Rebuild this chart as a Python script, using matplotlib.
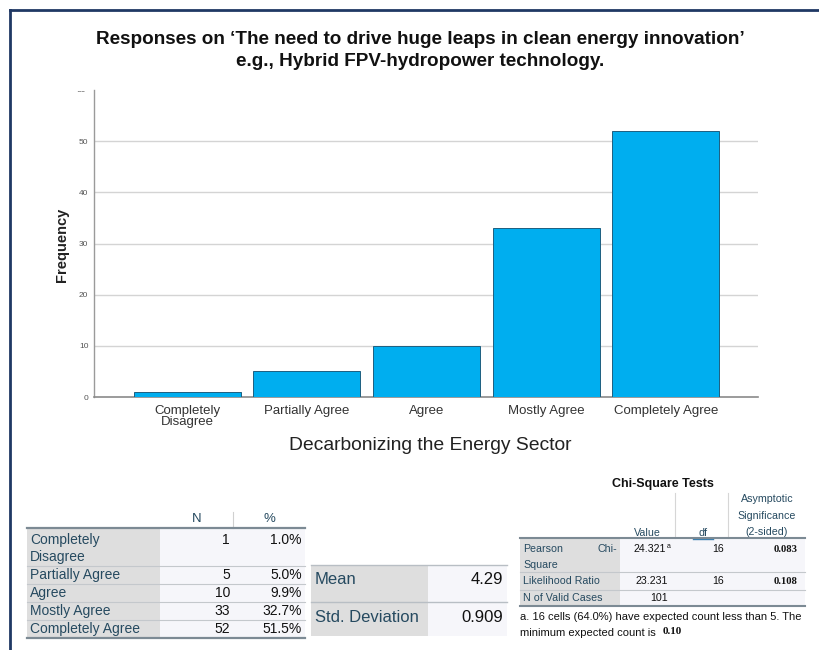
import numpy as np
import matplotlib
matplotlib.use("Agg")
import matplotlib.pyplot as plt
from matplotlib.patches import Rectangle
from matplotlib.lines import Line2D
from matplotlib.transforms import TransformedBbox, Bbox

plt.rcParams['font.family'] = ['Liberation Sans', 'DejaVu Sans']

# ---- data ----
categories = ["Completely\nDisagree", "Partially Agree", "Agree", "Mostly Agree", "Completely Agree"]
table_labels = ["Completely\nDisagree", "Partially Agree", "Agree", "Mostly Agree", "Completely Agree"]
counts = [1, 5, 10, 33, 52]
scores = [1, 2, 3, 4, 5]
y_ticks = [0, 10, 20, 30, 40, 50, 60]

chi_rows = ["Pearson Chi-Square", "Likelihood Ratio", "N of Valid Cases"]
chi_values = ["24.321", "23.231", "101"]
chi_df = ["16", "16", ""]
chi_sig = ["0.083", "0.108", ""]

W, H = 820, 650
fig = plt.figure(figsize=(W / 100, H / 100), dpi=100)
fig.patch.set_facecolor("white")


def fx(x):
    return x / W


def fy(y):
    return 1 - y / H


def txt(x, y, s, **kw):
    kw.setdefault("va", "center")
    return fig.text(fx(x), fy(y), s, **kw)


def hline(x0, x1, y, color, lw):
    fig.add_artist(Line2D([fx(x0), fx(x1)], [fy(y), fy(y)], color=color, lw=lw,
                          transform=fig.transFigure))


def vline(x, y0, y1, color, lw):
    fig.add_artist(Line2D([fx(x), fx(x)], [fy(y0), fy(y1)], color=color, lw=lw,
                          transform=fig.transFigure))


def rect(x0, y0, x1, y1, color):
    fig.add_artist(Rectangle((fx(x0), fy(y1)), fx(x1) - fx(x0), fy(y0) - fy(y1),
                             facecolor=color, edgecolor="none", transform=fig.transFigure))


# ---- outer frame (top and left edges) ----
hline(10, 820, 10, "#1F3864", 2.0)
vline(10, 10, 650, "#1F3864", 2.0)

# ---- title ----
txt(420, 40, "Responses on \u2018The need to drive huge leaps in clean energy innovation\u2019",
    ha="center", fontsize=13.6, fontweight="bold", color="#111111")
txt(420, 62, "e.g., Hybrid FPV-hydropower technology.",
    ha="center", fontsize=13.6, fontweight="bold", color="#111111")

# ---- bar chart ----
ax_l, ax_r, ax_t, ax_b = 94, 758, 90, 397
ax = fig.add_axes([fx(ax_l), fy(ax_b), fx(ax_r) - fx(ax_l), fy(ax_t) - fy(ax_b)])
x = np.arange(len(categories))
ax.bar(x, counts, width=0.895, color="#00AEEF", edgecolor="#1d5f80", linewidth=0.7, zorder=3)
ax.set_xlim(-0.78, 4.77)
ax.set_ylim(0, 60)
ax.set_yticks(y_ticks)
# the top label is drawn separately below so that it can be cut off
ax.set_yticklabels([str(t) for t in y_ticks[:-1]] + [""])
for t in y_ticks[1:-1]:
    ax.axhline(t, color="#D4D4D4", lw=1.0, zorder=1)
ax.set_xticks(x)
ax.set_xticklabels(categories, fontsize=9.5, color="#333333", linespacing=0.85)
ax.tick_params(axis="x", length=0, pad=6)
ax.tick_params(axis="y", length=0, pad=4, labelsize=6, labelcolor="#555555")
for s in ["top", "right"]:
    ax.spines[s].set_visible(False)
ax.spines["left"].set_color("#9A9A9A")
ax.spines["bottom"].set_color("#8A8A8A")
ax.spines["left"].set_linewidth(1.0)
ax.spines["bottom"].set_linewidth(1.2)
ax.set_facecolor("none")

top_lbl = ax.text(-0.012, 1.0, str(y_ticks[-1]), transform=ax.transAxes, ha="right",
                  va="center", fontsize=6, color="#555555")
top_lbl.set_clip_box(TransformedBbox(Bbox([[0, 0], [1, fy(91)]]), fig.transFigure))
top_lbl.set_clip_on(True)

txt(62, 245, "Frequency", ha="center", rotation=90, fontsize=10.5, fontweight="bold",
    color="#222222")
txt(430, 445, "Decarbonizing the Energy Sector", ha="center", fontsize=13.9, color="#222222")

# ---- frequency table ----
LBL_BG = "#DEDEDE"
VAL_BG = "#F6F6FA"
HEAD = "#264A60"
THICK = "#7C8A94"
THIN = "#C4C8CC"

total = sum(counts)
pcts = [100.0 * c / total for c in counts]

t_l, t_c1, t_c2, t_r = 27, 160, 233, 305
row_edges = [528, 566, 584, 602, 620, 638]
rect(t_l, 528, t_c1, 638, LBL_BG)
rect(t_c1, 528, t_r, 638, VAL_BG)
vline(t_c2, 512, 528, "#D0D0D0", 0.8)
txt(197, 519, "N", ha="center", fontsize=9.5, color=HEAD)
txt(269, 519, "%", ha="center", fontsize=9.5, color=HEAD)
for i, lab in enumerate(table_labels):
    y0, y1 = row_edges[i], row_edges[i + 1]
    if "\n" in lab:
        a, b = lab.split("\n")
        txt(30, y0 + 12, a, ha="left", fontsize=10, color=HEAD)
        txt(30, y0 + 29, b, ha="left", fontsize=10, color=HEAD)
        vy = y0 + 12
    else:
        vy = (y0 + y1) / 2
        txt(30, vy, lab, ha="left", fontsize=10, color=HEAD)
    txt(230, vy, str(counts[i]), ha="right", fontsize=10, color="#111111")
    txt(302, vy, f"{pcts[i]:.1f}%", ha="right", fontsize=10, color="#111111")
for y in row_edges[1:-1]:
    hline(t_l, t_r, y, THIN, 0.8)
hline(t_l, t_r, 528, THICK, 1.6)
hline(t_l, t_r, 638, THICK, 1.6)

# ---- descriptive statistics ----
vals = np.repeat(scores, counts)
mean = vals.mean()
sd = vals.std(ddof=1)
m_l, m_c, m_r = 311, 428, 507
rect(m_l, 565, m_c, 636, LBL_BG)
rect(m_c, 565, m_r, 636, VAL_BG)
hline(m_l, m_r, 565, "#B8BEC4", 1.0)
hline(m_l, m_r, 602, "#B8BEC4", 1.0)
txt(315, 580, "Mean", ha="left", fontsize=12, color=HEAD)
txt(315, 617, "Std. Deviation", ha="left", fontsize=12, color=HEAD)
txt(503, 580, f"{mean:.2f}", ha="right", fontsize=12, color="#111111")
txt(503, 617, f"{sd:.3f}", ha="right", fontsize=12, color="#111111")

# ---- chi-square tests ----
c_l, c_1, c_2, c_3, c_r = 520, 620, 675, 728, 805
c_rows = [538, 572, 590, 606]
FS = 7.7
txt(663, 484, "Chi-Square Tests", ha="center", fontsize=9, fontweight="bold", color="#111111")
vline(c_2, 493, 538, "#D6D6D6", 0.8)
vline(c_3, 493, 538, "#D6D6D6", 0.8)
txt(647, 533, "Value", ha="center", fontsize=FS, color=HEAD)
txt(703, 533, "df", ha="center", fontsize=FS, color=HEAD)
hline(693, 713, 538.5, "#3B7FB0", 1.0)
txt(767, 499, "Asymptotic", ha="center", fontsize=FS, color=HEAD)
txt(767, 516, "Significance", ha="center", fontsize=FS, color=HEAD)
txt(767, 532, "(2-sided)", ha="center", fontsize=FS, color=HEAD)
rect(c_l, 538, c_1, 606, LBL_BG)
rect(c_1, 538, c_r, 606, VAL_BG)
for i, lab in enumerate(chi_rows):
    y0, y1 = c_rows[i], c_rows[i + 1]
    if i == 0:
        vy = y0 + 11
        txt(523, vy, "Pearson", ha="left", fontsize=FS, color=HEAD)
        txt(617, vy, "Chi-", ha="right", fontsize=FS, color=HEAD)
        txt(523, y0 + 27, "Square", ha="left", fontsize=FS, color=HEAD)
        txt(666, vy, chi_values[i], ha="right", fontsize=FS, color="#111111")
        txt(667, vy - 2, "a", ha="left", fontsize=5, color="#111111")
    else:
        vy = (y0 + y1) / 2
        txt(523, vy, lab, ha="left", fontsize=FS, color=HEAD)
        txt(668, vy, chi_values[i], ha="right", fontsize=FS, color="#111111")
    if chi_df[i]:
        txt(724, vy, chi_df[i], ha="right", fontsize=FS, color="#111111")
    if chi_sig[i]:
        txt(798, vy, chi_sig[i], ha="right", fontsize=FS, fontweight="bold",
            family="Liberation Serif", color="#111111")
for y in c_rows[1:-1]:
    hline(c_l, c_r, y, THIN, 0.8)
hline(c_l, c_r, 538, THICK, 1.5)
hline(c_l, c_r, 606, THICK, 1.5)
txt(520, 617, "a. 16 cells (64.0%) have expected count less than 5. The",
    ha="left", fontsize=8.05, color="#111111")
txt(520, 633, "minimum expected count is", ha="left", fontsize=8.05, color="#111111")
txt(663, 632, "0.10", ha="left", fontsize=8.05, fontweight="bold",
    family="Liberation Serif", color="#111111")

fig.savefig("out.png", dpi=100)
